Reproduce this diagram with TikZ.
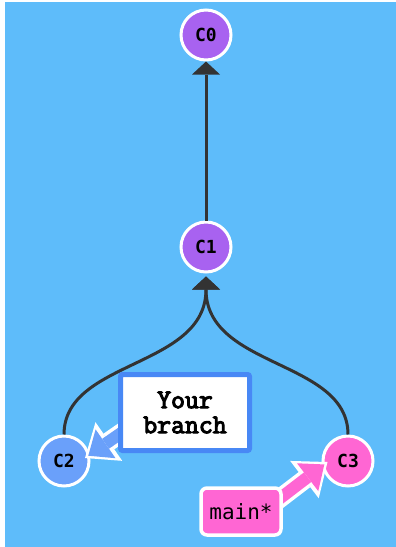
\documentclass[tikz,border=0pt]{standalone}
\usepackage{fontspec}
\usepackage{xcolor}
\usetikzlibrary{arrows.meta,positioning,calc}
\newfontfamily\commitfont{DejaVu Sans Mono}
\newfontfamily\branchfont[FakeBold=4]{Latin Modern Mono}
\definecolor{skyblue}{RGB}{94,188,250}
\definecolor{commitpurple}{RGB}{168,98,240}
\definecolor{commitblue}{RGB}{106,160,250}
\definecolor{commitpink}{RGB}{255,102,211}
\definecolor{boxblue}{RGB}{72,136,245}
\definecolor{linkgray}{RGB}{51,51,51}
\pgfdeclarelayer{backlayer}
\pgfdeclarelayer{fatlayer}
\pgfdeclarelayer{frontlayer}
\pgfsetlayers{backlayer,main,fatlayer,frontlayer}
\tikzset{
  commit/.style={circle, draw=white, line width=3pt,
    minimum size=50pt, inner sep=0pt,
    font=\commitfont\bfseries\fontsize{18}{20}\selectfont},
  branchbox/.style={rectangle, rounded corners=2pt,
    draw=boxblue, fill=white, line width=5pt,
    minimum width=129pt, minimum height=76pt, align=center,
    font=\branchfont\fontsize{27}{25}\selectfont},
  headbox/.style={rectangle, rounded corners=6pt,
    draw=white, fill=commitpink, line width=3.5pt,
    minimum width=80pt, minimum height=47pt, inner sep=0pt,
    font=\commitfont\fontsize{21}{21}\selectfont},
  link/.style={-{Triangle[length=13pt,width=28pt,line width=0pt]},
    line width=3pt, draw=linkgray},
  fatout/.style={-{Triangle[length=29pt,width=47pt,line width=0pt]},
    line width=19pt, draw=white},
  fatin/.style={-{Triangle[length=21pt,width=35pt,line width=0pt]},
    line width=12pt, shorten >=4pt}
}
\begin{document}
\begin{tikzpicture}[x=1pt,y=-1pt]

%% ── BACKGROUND ─────────────────────────────────────────────────────
\useasboundingbox (0,0) rectangle (396,547);
\begin{pgfonlayer}{backlayer}
  \fill[white] (0,0) rectangle (396,547);
  \fill[skyblue] (5,2) rectangle (396,547);
\end{pgfonlayer}

%% ── COMMITS ────────────────────────────────────────────────────────
\node[commit, fill=commitpurple] at (206,35) (c0) {C0};
\node[commit, fill=commitpurple, below=159pt of c0] (c1) {C1};
\node[commit, fill=commitblue] at ($(c1)+(-142,214)$) (c2) {C2};
\node[commit, fill=commitpink]  at ($(c1)+(142,214)$)  (c3) {C3};

%% ── PARENT LINKS ───────────────────────────────────────────────────
\draw[link] (c1) -- (c0);
\draw[link, shorten >=3pt] (c2.north) .. controls +(0,-75) and +(0,95) .. (c1.south);
\draw[link, shorten >=3pt] (c3.north) .. controls +(0,-75) and +(0,95) .. (c1.south);

%% ── BRANCH LABELS ──────────────────────────────────────────────────
\begin{pgfonlayer}{frontlayer}
  \node[branchbox] at (185,412.5) (yb) {Your\\branch};
  \node[headbox]   at (241,511.5) (mb) {main*};
\end{pgfonlayer}

%% ── POINTERS ───────────────────────────────────────────────────────
\begin{pgfonlayer}{fatlayer}
  \draw[fatout] ($(yb.west)+(14,13)$) -- ($(c2.east)+(-5.5,-3)$);
  \draw[fatin, draw=commitblue] ($(yb.west)+(14,13)$) -- ($(c2.east)+(-5.5,-3)$);
  \draw[fatout] ($(mb.east)+(-20,0)$) -- ($(c3.west)+(6,1)$);
  \draw[fatin, draw=commitpink] ($(mb.east)+(-20,0)$) -- ($(c3.west)+(6,1)$);
\end{pgfonlayer}

\end{tikzpicture}
\end{document}
